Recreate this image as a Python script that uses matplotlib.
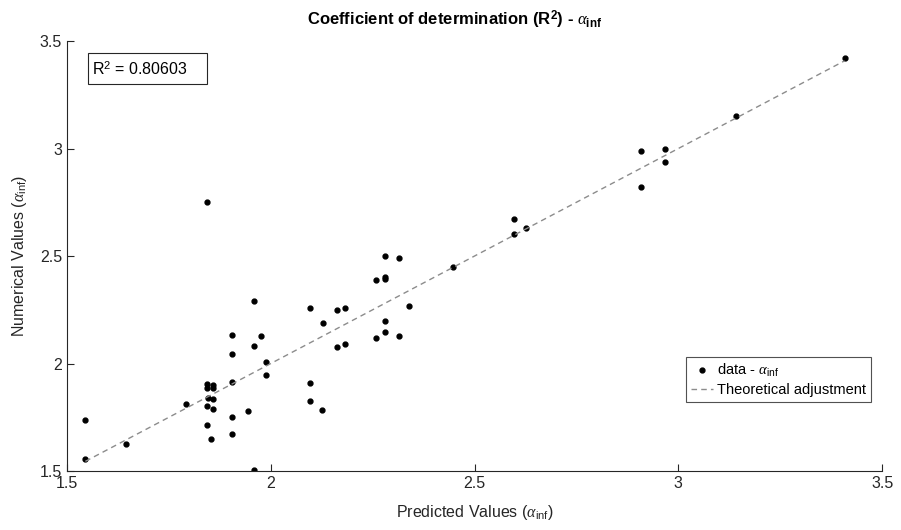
import numpy as np
import matplotlib
matplotlib.use("Agg")
import matplotlib.pyplot as plt
from matplotlib.patches import Rectangle

plt.rcParams['font.family'] = ['Liberation Sans', 'DejaVu Sans']
plt.rcParams['mathtext.fontset'] = 'custom'
plt.rcParams['mathtext.rm'] = 'Liberation Sans'
plt.rcParams['mathtext.it'] = 'Liberation Serif:italic'
plt.rcParams['mathtext.bf'] = 'Liberation Sans:bold'

# predicted vs numerical alpha_inf values
predicted = [1.843, 1.960, 1.906, 1.977, 1.960, 1.906, 1.989, 1.989, 1.906, 1.843,
             1.843, 1.857, 1.857, 1.845, 1.858, 1.791, 1.843, 1.858, 1.945, 1.906,
             1.843, 1.906, 1.853, 1.545, 1.545, 1.644, 1.960, 2.095, 2.095, 2.126,
             2.280, 2.315, 2.257, 2.280, 2.280, 2.448, 2.095, 2.163, 2.182, 2.129,
             2.340, 2.280, 2.280, 2.257, 2.315, 2.163, 2.182, 2.597, 2.597, 2.626,
             2.908, 2.967, 2.967, 2.908, 3.141, 3.408]
numerical = [2.751, 2.291, 2.131, 2.128, 2.081, 2.043, 2.008, 1.948, 1.914, 1.905,
             1.885, 1.900, 1.887, 1.840, 1.835, 1.812, 1.802, 1.788, 1.779, 1.753,
             1.714, 1.674, 1.649, 1.739, 1.557, 1.627, 1.506, 1.908, 1.827, 1.784,
             2.500, 2.492, 2.388, 2.404, 2.392, 2.449, 2.258, 2.249, 2.258, 2.188,
             2.267, 2.198, 2.147, 2.119, 2.129, 2.078, 2.089, 2.672, 2.602, 2.630,
             2.990, 2.999, 2.939, 2.820, 3.150, 3.419]
r2_text = "0.80603"

ticks = [1.5, 2, 2.5, 3, 3.5]
tick_labels = ["1.5", "2", "2.5", "3", "3.5"]

grey = '#262626'

fig = plt.figure(figsize=(9.01, 5.30), dpi=100)
ax = fig.add_axes([0.0744, 0.1113, 0.9046, 0.8113])

ax.plot(predicted, numerical, 'o', color='black', markersize=3.5,
        label=r'data - $\alpha_{\rm inf}$')
fit = np.array([min(predicted), max(predicted)])
ax.plot(fit, fit, '--', color='#8c8c8c', linewidth=1.0, dashes=(4, 3),
        label='Theoretical adjustment')

ax.set_xlim(1.5, 3.5)
ax.set_ylim(1.5, 3.5)
ax.set_xticks(ticks)
ax.set_xticklabels(tick_labels)
ax.set_yticks(ticks)
ax.set_yticklabels(tick_labels)
ax.tick_params(direction='in', length=5, width=0.8, colors=grey, labelsize=11.5,
               labelcolor=grey)
for side in ['top', 'right']:
    ax.spines[side].set_visible(False)
for side in ['left', 'bottom']:
    ax.spines[side].set_color(grey)
    ax.spines[side].set_linewidth(0.8)

ax.set_xlabel(r'Predicted Values ($\alpha_{\rm inf}$)', fontsize=11.5, color=grey,
              labelpad=9)
ax.set_ylabel(r'Numerical Values ($\alpha_{\rm inf}$)', fontsize=11.5, color=grey,
              labelpad=8)
ax.set_title(r'Coefficient of determination (R$^{\mathbf{2}}$) - $\alpha_{\mathbf{inf}}$',
             fontsize=12, fontweight='bold', color='black', pad=11, x=0.476)

# R^2 annotation box
ax.add_patch(Rectangle((0.0258, 0.899), 0.146, 0.073, transform=ax.transAxes,
                       facecolor='white', edgecolor=grey, linewidth=0.8, zorder=5))
ax.text(0.031, 0.936, r'R$^2$ = ' + r2_text, transform=ax.transAxes,
        fontsize=11.5, va='center', ha='left', color='black', zorder=6)

leg = ax.legend(loc='lower right', bbox_to_anchor=(0.9865, 0.16), fontsize=10.5,
                frameon=True, fancybox=False, handlelength=1.5, handletextpad=0.3,
                borderpad=0.35, labelspacing=0.3, borderaxespad=0)
leg.get_frame().set_edgecolor(grey)
leg.get_frame().set_linewidth(0.8)

fig.savefig('out.png', dpi=100)
